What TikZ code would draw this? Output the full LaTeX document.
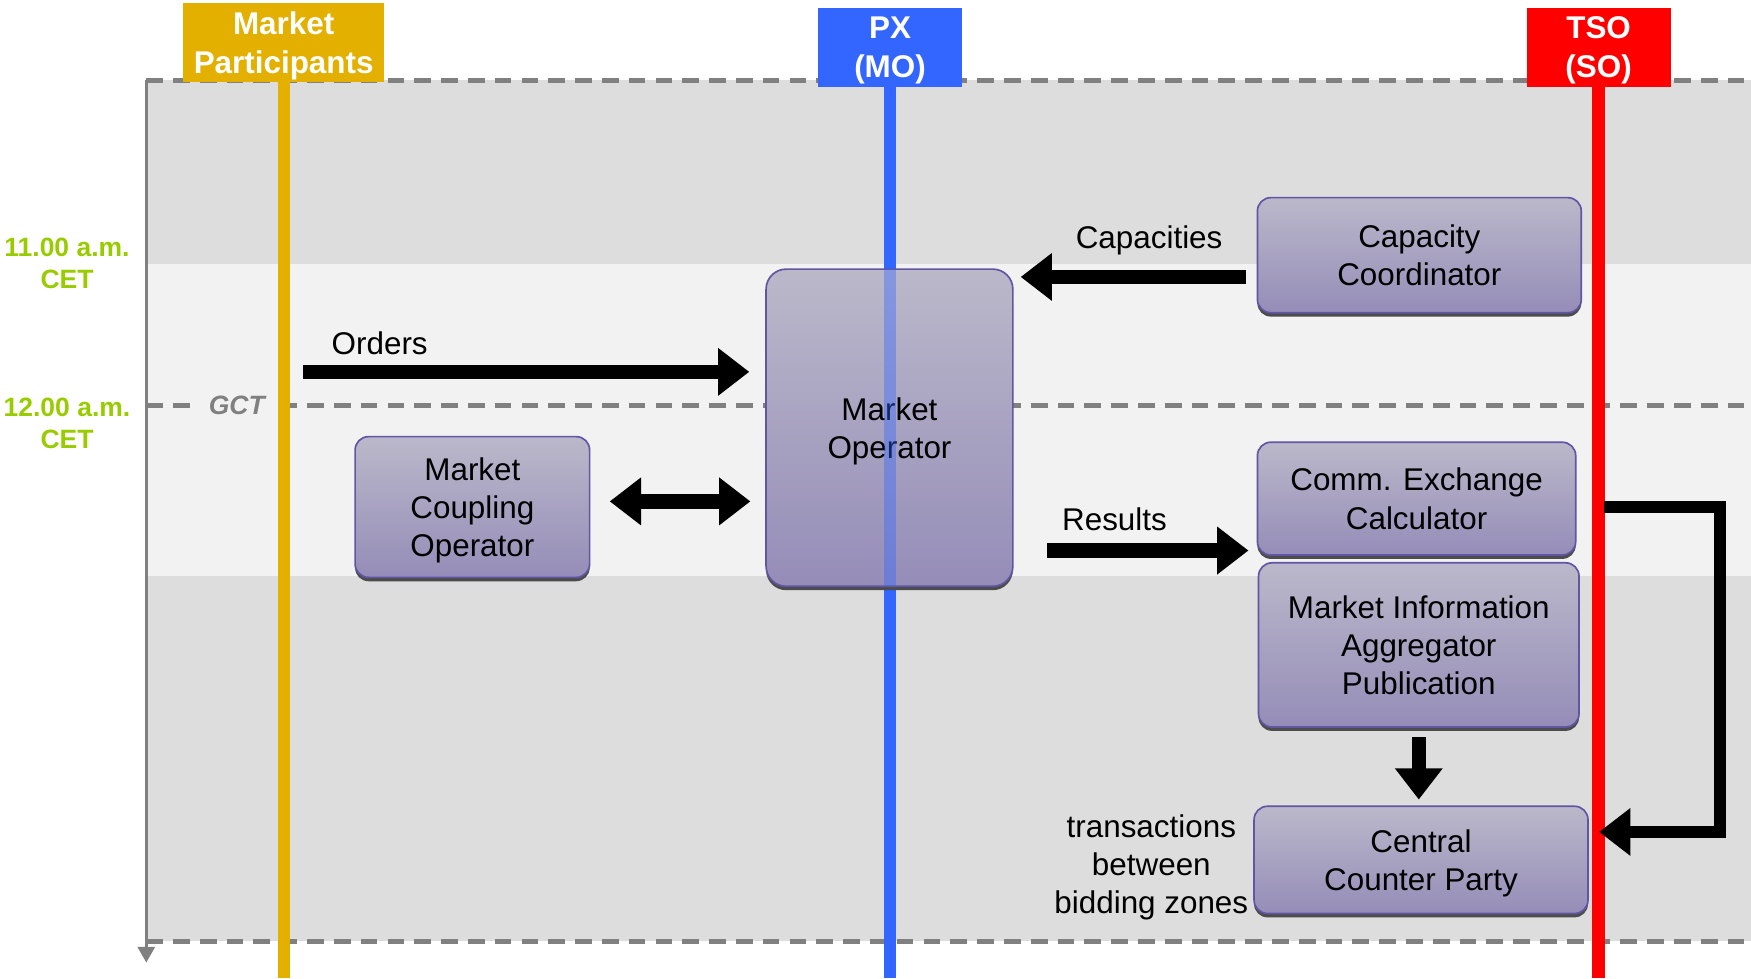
\documentclass[tikz,border=0pt]{standalone}
\usepackage{fontspec}
\setmainfont{Liberation Sans}
\usetikzlibrary{arrows.meta,shadows}

\definecolor{mpgold}{RGB}{227,176,0}
\definecolor{pxblue}{RGB}{51,102,255}
\definecolor{tsored}{RGB}{255,0,0}
\definecolor{cetgreen}{RGB}{153,204,0}
\definecolor{darkband}{RGB}{221,221,221}
\definecolor{lightband}{RGB}{242,242,242}
\definecolor{boxtop}{RGB}{187,184,202}
\definecolor{boxbottom}{RGB}{149,141,184}
\definecolor{boxborder}{RGB}{96,86,164}

\begin{document}
\begin{tikzpicture}
	[x=0.2mm, y=-0.2mm,
	box/.style={draw=boxborder, line width=0.3mm, rounded corners=2.4mm, top color=boxtop, bottom color=boxbottom, align=center, inner sep=0pt, outer sep=0pt, text depth=0pt, font=\fontsize{16}{19.4}\selectfont, drop shadow={shadow xshift=0mm, shadow yshift=-0.7mm, fill=black!70, opacity=1}},
	flowlabel/.style={align=center, text depth=0pt, font=\fontsize{16}{19.4}\selectfont},
	header/.style={text=white, align=center, inner sep=0pt, text depth=0pt, font=\bfseries\fontsize{16}{19.8}\selectfont},
	lane/.style={line width=2.2mm},
	dashline/.style={gray, line width=0.8mm, dash pattern=on 3mm off 1.8mm},
	timelabel/.style={cetgreen, align=center, font=\bfseries\fontsize{13.5}{16}\selectfont},
	blockarrow/.style={line width=2.6mm, -{Triangle[length=5.6mm, width=8.2mm]}},
	dblarrow/.style={blockarrow, {Triangle[length=5.6mm, width=8.2mm]}-{Triangle[length=5.6mm, width=8.2mm]}}]

	\useasboundingbox (0,0) rectangle (1568,876);

	% Draw time bands
	\fill[darkband] (131,72) rectangle (1568,236);
	\fill[lightband] (131,236) rectangle (1568,516);
	\fill[darkband] (131,516) rectangle (1568,843);

	% Draw time axis and dashed limits
	\draw[dashline] (131,72) -- (1568,72);
	\draw[dashline] (131,363) -- (1568,363);
	\draw[dashline] (131,843) -- (1568,843);
	\draw[gray, line width=0.6mm, -{Triangle[length=2.8mm, width=3mm]}] (131,72) -- (131,862);

	\node[timelabel] (t11) at (60,236) {11.00 a.m.\\CET};
	\node[timelabel] (t12) at (60,379) {12.00 a.m.\\CET};
	\node[fill=lightband, text=gray, inner xsep=2mm, inner ysep=1mm, font=\bfseries\itshape\fontsize{13.5}{16}\selectfont] (gct) at (212,363) {GCT};

	% Draw swim lanes
	\foreach \nm/\cx/\cy/\w/\col/\txt in {mp/254/38/36/mpgold/{Market\\Participants}, px/797/42.5/25.8/pxblue/{PX\\(MO)}, tso/1431.5/42.5/25.8/tsored/{TSO\\(SO)}}
	{
		\draw[lane, \col] (\cx,60) -- (\cx,876);
		\node[header, fill=\col, minimum width=\w mm, minimum height=14.2mm] (\nm) at (\cx,\cy) {\txt};
	}

	% Create boxes
	\node[box, minimum width=58mm, minimum height=20.6mm] (cc) at (1271,228.5) {Capacity\\Coordinator};
	\node[box, minimum width=44.2mm, minimum height=56.8mm, rounded corners=3.6mm] (mo) at (796.5,383) {Market\\Operator};
	\node[box, minimum width=42mm, minimum height=25.2mm] (mco) at (423,454) {Market\\Coupling\\Operator};
	\node[box, minimum width=57mm, minimum height=20.2mm] (cec) at (1268.5,446.5) {Comm. Exchange\\Calculator};
	\node[box, minimum width=57.4mm, minimum height=29.4mm] (mia) at (1270.5,577.5) {Market Information\\Aggregator\\Publication};
	\node[box, minimum width=59.8mm, minimum height=19.2mm] (ccp) at (1272.5,770) {Central\\Counter Party};

	\draw[lane, pxblue, opacity=0.4] (px.south |- mo.north) -- (px.south |- mo.south);

	% Draw flows
	\coordinate (ordstart) at (271,333);
	\draw[blockarrow, shorten >=3mm] (ordstart) -- (ordstart -| mo.west);
	\node[flowlabel] (ordlbl) at (340,307) {Orders};

	\coordinate (capy) at (0,248);
	\draw[blockarrow, shorten <=2mm, shorten >=1.4mm] (capy -| cc.west) -- (capy -| mo.east);
	\node[flowlabel] (caplbl) at (1029,212) {Capacities};

	\coordinate (mcoy) at (0,449);
	\draw[dblarrow, shorten <=3.6mm, shorten >=2.8mm] (mcoy -| mco.east) -- (mcoy -| mo.west);

	\coordinate (resy) at (0,493);
	\draw[blockarrow, shorten <=6.2mm, shorten >=1.6mm] (resy -| mo.east) -- (resy -| cec.west);
	\node[flowlabel] (reslbl) at (998,465) {Results};

	\draw[blockarrow, shorten <=1.8mm, shorten >=1.2mm] (mia.south) -- (mia.south |- ccp.north);

	\coordinate (tsoout) at (1436,454);
	\coordinate (tsoin) at (1432,745);
	\draw[blockarrow, line width=2.2mm] (tsoout) -- ++(104,0) |- (tsoin);
	\node[flowlabel] (trlbl) at (1031,774) {transactions\\between\\bidding zones};

\end{tikzpicture}
\end{document}
